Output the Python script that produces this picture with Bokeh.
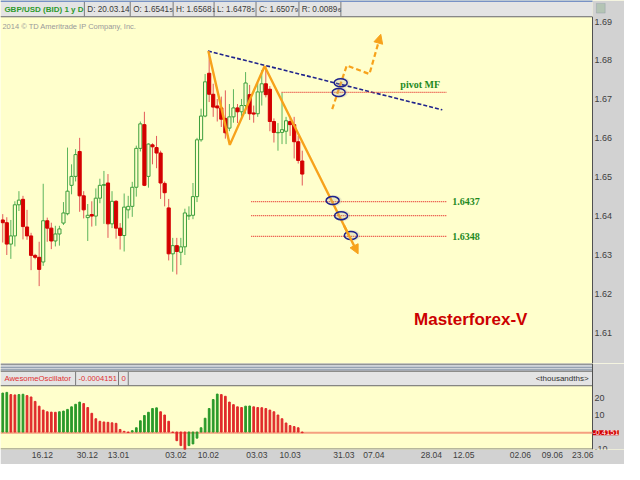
import numpy as np
from bokeh.plotting import figure
from bokeh.layouts import column
from bokeh.models import (Range1d, FixedTicker, Label, BoxAnnotation, Arrow,
                          NormalHead, ColumnDataSource)
from bokeh.embed import file_html
from bokeh.resources import INLINE

# ---------------- data (GBP/USD daily) ----------------
OPEN = [1.6390, 1.6383, 1.6328, 1.6349, 1.6429, 1.6443, 1.6372, 1.6349, 1.6299, 1.6294,
        1.6282, 1.6388, 1.6369, 1.6336, 1.6354, 1.6382, 1.6406, 1.6479, 1.6502, 1.6566,
        1.6452, 1.6396, 1.6404, 1.6400, 1.6446, 1.6479, 1.6485, 1.6380, 1.6438, 1.6369,
        1.6350, 1.6416, 1.6425, 1.6474, 1.6574, 1.6635, 1.6502, 1.6583, 1.6576, 1.6562,
        1.6484, 1.6421, 1.6303, 1.6324, 1.6307, 1.6321, 1.6400, 1.6402, 1.6450, 1.6596,
        1.6657, 1.6767, 1.6713, 1.6683, 1.6678, 1.6651, 1.6626, 1.6655, 1.6678, 1.6668,
        1.6684, 1.6712, 1.6665, 1.6663, 1.6719, 1.6740, 1.6726, 1.6643, 1.6614, 1.6615,
        1.6618, 1.6643, 1.6635, 1.6591, 1.65415]
HIGH = [1.6405, 1.6397, 1.6390, 1.6438, 1.6464, 1.6452, 1.6416, 1.6357, 1.6303, 1.6334,
        1.6483, 1.6396, 1.6383, 1.6375, 1.6375, 1.6436, 1.6576, 1.6533, 1.6572, 1.6601,
        1.6464, 1.6431, 1.6438, 1.6471, 1.6496, 1.6516, 1.6508, 1.6464, 1.6441, 1.6382,
        1.6458, 1.6452, 1.6488, 1.6581, 1.6643, 1.6668, 1.6587, 1.6587, 1.6606, 1.6568,
        1.6489, 1.6444, 1.6344, 1.6344, 1.6344, 1.6419, 1.6425, 1.6485, 1.6601, 1.6676,
        1.6765, 1.6823, 1.6740, 1.6701, 1.6707, 1.6723, 1.6688, 1.6726, 1.6688, 1.6701,
        1.6770, 1.6737, 1.6684, 1.6742, 1.6775, 1.6784, 1.6734, 1.6651, 1.6639, 1.6717,
        1.6655, 1.6655, 1.6655, 1.6606, 1.65681]
LOW = [1.6332, 1.6300, 1.6290, 1.6322, 1.6413, 1.6340, 1.6339, 1.6261, 1.6289, 1.6220,
       1.6272, 1.6334, 1.6315, 1.6322, 1.6324, 1.6377, 1.6402, 1.6456, 1.6489, 1.6411,
       1.6394, 1.6336, 1.6373, 1.6375, 1.6433, 1.6380, 1.6344, 1.6369, 1.6342, 1.6314,
       1.6309, 1.6394, 1.6398, 1.6450, 1.6566, 1.6477, 1.6473, 1.6533, 1.6523, 1.6444,
       1.6425, 1.6286, 1.6257, 1.6250, 1.6274, 1.6300, 1.6390, 1.6392, 1.6436, 1.6591,
       1.6654, 1.6693, 1.6655, 1.6643, 1.6629, 1.6599, 1.6618, 1.6640, 1.6639, 1.6655,
       1.6663, 1.6647, 1.6640, 1.6655, 1.6684, 1.6705, 1.6618, 1.6589, 1.6568, 1.6585,
       1.6585, 1.6606, 1.6548, 1.6535, 1.64785]
CLOSE = [1.6383, 1.6328, 1.6349, 1.6429, 1.6441, 1.6373, 1.6349, 1.6299, 1.6294, 1.6263,
         1.6388, 1.6369, 1.6336, 1.6354, 1.6367, 1.6408, 1.6464, 1.6502, 1.6558, 1.6452,
         1.6416, 1.6402, 1.6400, 1.6446, 1.6479, 1.6481, 1.6380, 1.6438, 1.6369, 1.6350,
         1.6423, 1.6425, 1.6474, 1.6574, 1.6637, 1.6479, 1.6585, 1.6578, 1.6562, 1.6485,
         1.6460, 1.6303, 1.6324, 1.6309, 1.6321, 1.6408, 1.6402, 1.6450, 1.6596, 1.6657,
         1.6745, 1.6713, 1.6680, 1.6678, 1.6649, 1.6614, 1.6655, 1.6678, 1.6668, 1.6684,
         1.6742, 1.6663, 1.6662, 1.6719, 1.6740, 1.6712, 1.6643, 1.6615, 1.6615, 1.6622,
         1.6645, 1.6635, 1.6591, 1.6543, 1.65079]

# Awesome Oscillator, thousandths
AO = [22.9, 23.3, 22.0, 21.8, 22.0, 22.2, 21.4, 20.6, 18.0, 15.2,
      12.9, 11.9, 11.7, 11.6, 11.9, 12.3, 13.3, 14.8, 16.3, 17.6,
      16.7, 14.4, 11.0, 7.8, 6.3, 5.9, 5.7, 5.4, 5.1, 1.5,
      0.4, -0.3, 0.8, 2.5, 6.6, 9.7, 11.6, 13.8, 14.2, 11.9,
      10.0, 6.3, -0.3, -5.1, -8.0, -10.4, -8.0, -7.0, -3.6, 2.5,
      8.1, 13.8, 19.1, 22.3, 22.0, 21.0, 17.6, 16.1, 14.8, 14.4,
      15.2, 15.3, 14.8, 14.4, 14.3, 13.8, 12.9, 11.9, 10.0, 7.8,
      5.3, 3.8, 3.2, 2.5, -0.4151]

DATE_TICK_LABELS = ["16.12", "30.12", "13.01", "03.02", "10.02", "03.03", "10.03",
                    "31.03", "07.04", "28.04", "12.05", "02.06", "09.06", "23.06"]
DATE_TICK_POS = [9.8, 20.9, 28.6, 42.8, 50.8, 62.8, 71.0,
                 84.3, 91.7, 105.9, 113.9, 127.9, 135.8, 143.3]
PRICE_TICKS = [1.61, 1.62, 1.63, 1.64, 1.65, 1.66, 1.67, 1.68, 1.69]
PRICE_LABELS = ["1.61", "1.62", "1.63", "1.64", "1.65", "1.66", "1.67", "1.68", "1.69"]
OSC_TICKS = [20, 10, -10]
OSC_LABELS = ["20", "10", "-10"]

# analysis drawings (bar index, price)
ZIG_X = [50.8, 56.1, 64.7, 87.8]
ZIG_Y = [1.6824, 1.6583, 1.6785, 1.6303]
TREND_X = [50.7, 108.6]
TREND_Y = [1.6824, 1.6673]
PROJ_X = [81.4, 85.0, 90.6, 93.4]
PROJ_Y = [1.6675, 1.6787, 1.6765, 1.6867]
PIVOT_MF = 1.6718
PIVOT_X = [68.9, 109.6]
TARGETS = [1.6437, 1.6401, 1.6348]
TARGET_LABELS = ["1.6437", "", "1.6348"]
TARGET_X = [61.4, 109.6]
MARK_X = [83.5, 83.0, 81.5, 83.6, 86.0]
MARK_Y = [1.67425, 1.67177, 1.64398, 1.64010, 1.63502]

# ---------------- layout helpers (reference pixels -> data units) ----------------
W, AXW, HM, HO, XB = 624, 32, 363, 101, 15
def rx(xp):
    return (xp - 2.3) / 4.15
def ry(yp):
    return 1.69 - (yp - 21.7) / 4020.0
def ro(yp):
    return (445.9 - yp) / 1.76

BG = "#ffffcc"
PANEL = "#d2d2d2"
HDR = "#e4e4e4"
FONT = "Liberation Sans"
UP_LINE, UP_WICK = "#3c9e3c", "#5cb45c"
DN_FILL, DN_WICK = "#d40000", "#e25a5a"
ORANGE = "#f7a21b"
NAVY = "#1f238c"
DOTRED = "#e6362e"
LBLGREEN = "#1e8a1e"

XS = rx(0)
XE = rx(607)                       # right edge of the chart area
px_per_unit = (W - AXW) / (XE - XS)
XEND = XS + W / px_per_unit        # right edge incl. value-scale column

ADV = {c: 0.556 for c in "0123456789"}
ADV.update({'.': 0.278, ':': 0.278, ' ': 0.278, 'O': 0.778, 'H': 0.722, 'L': 0.556,
            'C': 0.722, 'R': 0.722, 'D': 0.722})
def tw(s, size):
    return sum(ADV.get(c, 0.6) for c in s) * size

def txt(fig, x, y, s, size, color, style="normal", font=FONT, align="left", **kw):
    fig.add_layout(Label(x=x, y=y, text=s, text_font=font, text_font_size=f"{size}px",
                         text_color=color, text_font_style=style, text_align=align,
                         text_baseline="middle", **kw))

# ---------------- main price panel ----------------
YA0, YA1 = ry(375), ry(0)
p = figure(width=W, height=HM, x_range=Range1d(XS, XEND), y_range=Range1d(YA0, YA1),
           output_backend="svg", toolbar_location=None, x_axis_location=None,
           y_axis_location=None, min_border=0, background_fill_color=BG,
           border_fill_color=PANEL, outline_line_color=None)
p.grid.visible = False

# value-scale column + header strip
p.add_layout(BoxAnnotation(left=XE, right=XEND, bottom=YA0, top=YA1,
                           fill_color=PANEL, fill_alpha=1, line_alpha=0, level="underlay"))
p.add_layout(BoxAnnotation(left=XS, right=XE, bottom=ry(17), top=YA1,
                           fill_color=HDR, fill_alpha=1, line_alpha=0, level="underlay"))
HLA = [(16.8, "#6a6a6a", 1), (0.6, "#5577bb", 1.5)]
p.segment(x0=[XS] * 2, y0=[ry(v) for v, _, _ in HLA], x1=[XE] * 2, y1=[ry(v) for v, _, _ in HLA],
          line_color=[c for _, c, _ in HLA], line_width=[w for _, _, w in HLA])
p.segment(x0=[XE], y0=[ry(17)], x1=[XE], y1=[YA0], line_color="#505050", line_width=1)
SEP = [86, 133, 177, 219, 262, 306, 349]
p.segment(x0=[rx(v) for v in SEP], y0=ry(1.5), x1=[rx(v) for v in SEP], y1=ry(16.5),
          line_color="#7a7a7a", line_width=1)
# small icon box at the top of the value scale
p.add_layout(BoxAnnotation(left=rx(611), right=rx(620), bottom=ry(13), top=ry(3),
                           fill_color="#b4c4b4", fill_alpha=1, line_color="#7a8a9a",
                           line_width=1))

# price scale labels
for t, l in zip(PRICE_TICKS, PRICE_LABELS):
    txt(p, XE + 2 / px_per_unit, t, l, 9, "#404040")

O = np.array(OPEN); H = np.array(HIGH); L = np.array(LOW); C = np.array(CLOSE)
txt(p, rx(4), ry(8.8), "GBP/USD (BID) 1 y D", 8, "#2c9a2c", style="bold")
rng = HIGH[-1] - LOW[-1]
cells = [("D: 20.03.14", ""),
         ("O: " + f"{OPEN[-1]:.5f}"[:-1], f"{OPEN[-1]:.5f}"[-1]),
         ("H: " + f"{HIGH[-1]:.5f}"[:-1], f"{HIGH[-1]:.5f}"[-1]),
         ("L: " + f"{LOW[-1]:.5f}"[:-1], f"{LOW[-1]:.5f}"[-1]),
         ("C: " + f"{CLOSE[-1]:.5f}"[:-1], f"{CLOSE[-1]:.5f}"[-1]),
         ("R: " + f"{rng:.5f}"[:-1], f"{rng:.5f}"[-1])]
for sx, (main, small) in zip(SEP[:-1], cells):
    x0 = rx(sx + 3)
    txt(p, x0, ry(8.8), main, 8.2, "#3a3a3a")
    if small:
        txt(p, x0 + (tw(main, 8.2) + 0.3) / px_per_unit, ry(9.8), small, 6, "#3a3a3a")

txt(p, rx(2), ry(27), "2014 \u00a9 TD Ameritrade IP Company, Inc.", 7.5, "#9a9a9a")

# candles
idx = np.arange(len(O))
up = C >= O
dn = ~up
p.segment(idx[up], H[up], idx[up], L[up], line_color=UP_WICK, line_width=1)
p.segment(idx[dn], H[dn], idx[dn], L[dn], line_color=DN_WICK, line_width=1)
p.vbar(x=idx[up], top=C[up], bottom=O[up], width=0.78, fill_color=BG,
       line_color=UP_LINE, line_width=1)
p.vbar(x=idx[dn], top=O[dn], bottom=C[dn], width=0.78, fill_color=DN_FILL,
       line_color=DN_FILL, line_width=1)

# trend / levels
p.line(TREND_X, TREND_Y, line_color=NAVY, line_width=1.6, line_dash="4 2")
p.line(PIVOT_X, [PIVOT_MF, PIVOT_MF], line_color=DOTRED, line_width=1.2, line_dash="1 1")
for lvl, lab in zip(TARGETS, TARGET_LABELS):
    p.line(TARGET_X, [lvl, lvl], line_color=DOTRED, line_width=1.2, line_dash="1 1")
    if lab:
        txt(p, TARGET_X[1] + rx(463) - rx(457), lvl, lab, 10, LBLGREEN, style="bold",
            font="Liberation Serif")
txt(p, rx(410), ry(87), "pivot MF", 10, LBLGREEN, style="bold", font="Liberation Serif")

# zigzag with arrow
p.line(ZIG_X[:-1] + [ZIG_X[-2] + 0.9 * (ZIG_X[-1] - ZIG_X[-2])],
       ZIG_Y[:-1] + [ZIG_Y[-2] + 0.9 * (ZIG_Y[-1] - ZIG_Y[-2])],
       line_color=ORANGE, line_width=2.4)
p.add_layout(Arrow(x_start=ZIG_X[-2] + 0.85 * (ZIG_X[-1] - ZIG_X[-2]),
                   y_start=ZIG_Y[-2] + 0.85 * (ZIG_Y[-1] - ZIG_Y[-2]),
                   x_end=ZIG_X[-1], y_end=ZIG_Y[-1], line_color=ORANGE, line_width=2.4,
                   end=NormalHead(size=9, fill_color=ORANGE, line_color=ORANGE)))
# projected path
p.line(PROJ_X[:-1] + [PROJ_X[-2] + 0.85 * (PROJ_X[-1] - PROJ_X[-2])],
       PROJ_Y[:-1] + [PROJ_Y[-2] + 0.85 * (PROJ_Y[-1] - PROJ_Y[-2])],
       line_color=ORANGE, line_width=2.2, line_dash="5 3")
p.add_layout(Arrow(x_start=PROJ_X[-2] + 0.8 * (PROJ_X[-1] - PROJ_X[-2]),
                   y_start=PROJ_Y[-2] + 0.8 * (PROJ_Y[-1] - PROJ_Y[-2]),
                   x_end=PROJ_X[-1], y_end=PROJ_Y[-1], line_color=ORANGE, line_width=2.2,
                   end=NormalHead(size=9, fill_color=ORANGE, line_color=ORANGE)))

# marks (blue ellipses with a soft grey shadow)
shadow_dx = 1.2 / px_per_unit
p.ellipse([m + shadow_dx for m in MARK_X], MARK_Y, width=16, height=11,
          width_units="screen", height_units="screen",
          fill_color="#a0a0a0", fill_alpha=0.22, line_color=None)
p.ellipse(MARK_X, MARK_Y, width=13, height=8, width_units="screen", height_units="screen",
          fill_color=None, line_color=NAVY, line_width=1.5)

txt(p, rx(424), ry(330), "Masterforex-V", 17, "#cc0000", style="bold")

# ---------------- oscillator panel ----------------
YB0, YB1 = ro(464), ro(375)
q = figure(width=W, height=HO, x_range=Range1d(XS, XEND), y_range=Range1d(YB0, YB1),
           output_backend="svg", toolbar_location=None, y_axis_location=None,
           min_border_left=0, min_border_top=0, min_border_bottom=XB, min_border_right=0,
           background_fill_color=BG, border_fill_color=PANEL, outline_line_color=None)
q.grid.visible = False
xa = q.xaxis[0]
xa.ticker = FixedTicker(ticks=DATE_TICK_POS)
xa.major_label_overrides = {t: l for t, l in zip(DATE_TICK_POS, DATE_TICK_LABELS)}
xa.major_tick_in = 0
xa.major_tick_out = 0
xa.minor_tick_in = 0
xa.minor_tick_out = 0
xa.axis_line_color = None
xa.major_label_standoff = 2
xa.major_label_text_font = FONT
xa.major_label_text_font_size = "8.5px"
xa.major_label_text_color = "#404040"

q.add_layout(BoxAnnotation(left=XE, right=XEND, bottom=YB0, top=YB1,
                           fill_color=PANEL, fill_alpha=1, line_alpha=0, level="underlay"))
q.add_layout(BoxAnnotation(left=XS, right=XE, bottom=ro(383), top=YB1,
                           fill_color="#cfd3d8", fill_alpha=1, line_alpha=0, level="underlay"))
q.add_layout(BoxAnnotation(left=XS, right=XE, bottom=ro(398), top=ro(383),
                           fill_color=HDR, fill_alpha=1, line_alpha=0, level="underlay"))
HL = [(375.5, "#505050"), (379, "#8a9aab"), (381.5, "#8a9aab"), (383, "#6a6a6a"),
      (398, "#6a6a6a"), (463.5, "#6a6a6a")]
q.segment(x0=[XS] * len(HL), y0=[ro(v) for v, _ in HL],
          x1=[XE] * len(HL), y1=[ro(v) for v, _ in HL],
          line_color=[c for _, c in HL], line_width=1)
q.segment(x0=[XE], y0=[YB0], x1=[XE], y1=[YB1], line_color="#505050")
OSEP = [77, 121, 131]
q.segment(x0=[rx(v) for v in OSEP], y0=ro(383.5), x1=[rx(v) for v in OSEP], y1=ro(397.5),
          line_color="#7a7a7a", line_width=1)
ORED = "#e03030"
txt(q, rx(4), ro(390.8), "AwesomeOscillator", 7.8, ORED)
txt(q, rx(80), ro(390.8), f"{AO[-1] / 1000:.7f}", 7.6, ORED)
txt(q, rx(124), ro(390.8), "0", 7.8, ORED)
txt(q, rx(603), ro(390.8), "<thousandths>", 8, "#303030", align="right")

ao = np.array(AO)
cols = ["#2a9a2a" if (i == 0 or ao[i] > ao[i - 1]) else "#e02a2a" for i in range(len(ao))]
src = ColumnDataSource(dict(x=np.arange(len(ao)), top=ao, c=cols))
q.line([XS, XE], [AO[-1], AO[-1]], line_color="#f5a080", line_width=2)
q.vbar(x="x", top="top", bottom=0, width=0.42, fill_color="c", line_color="c", source=src)

# value scale labels
for t, l in zip(OSC_TICKS, OSC_LABELS):
    txt(q, XE + 2 / px_per_unit, t, l, 9, "#404040")
q.add_layout(Label(x=XE + 0.5 / px_per_unit, y=AO[-1], text=f"{AO[-1]:.4f}",
                   text_font=FONT, text_font_size="7.6px", text_color="white",
                   text_baseline="middle", background_fill_color="#d40000"))

layout = column(p, q, spacing=0)
open("out.html", "w").write(file_html(layout, INLINE))
